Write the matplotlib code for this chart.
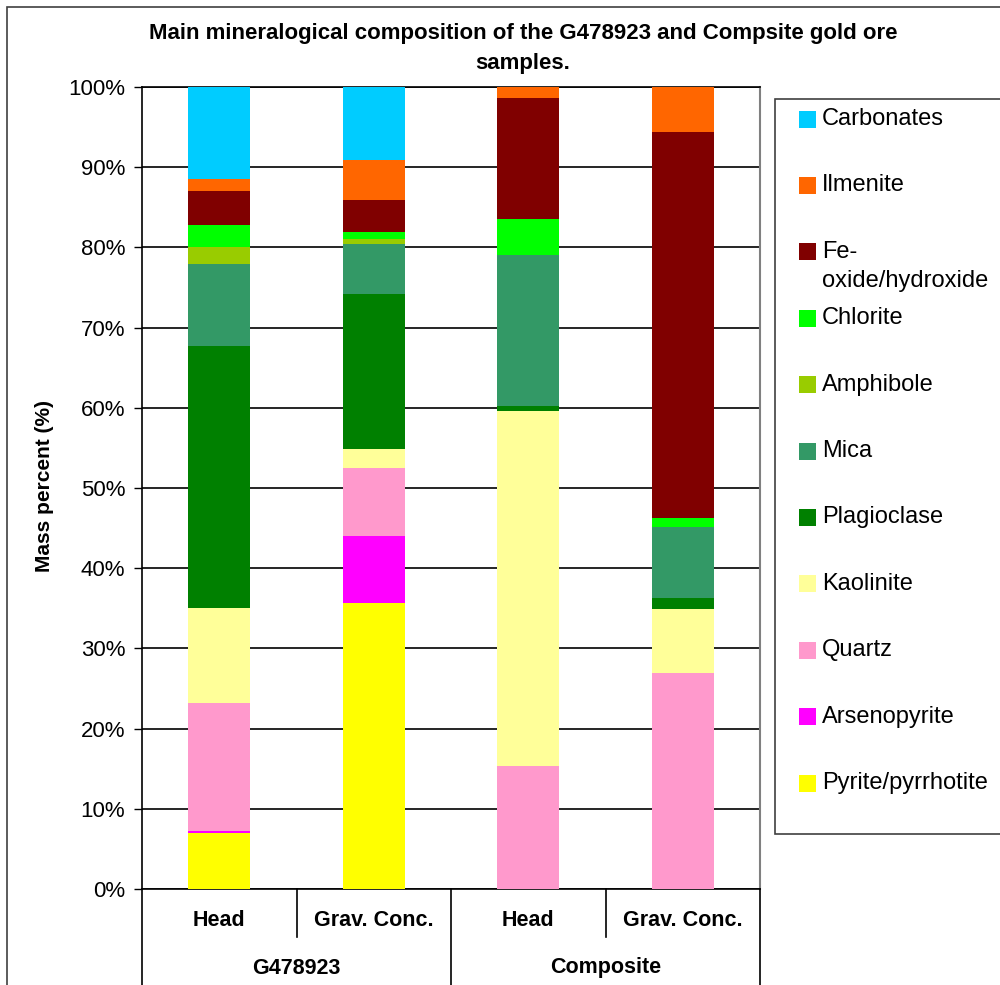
import matplotlib
matplotlib.use("Agg")
import matplotlib.pyplot as plt
from matplotlib.patches import Rectangle
from matplotlib.lines import Line2D
from matplotlib.ticker import FuncFormatter
import matplotlib.transforms as mtransforms

plt.rcParams['font.family'] = ['Liberation Sans', 'DejaVu Sans']

# Samples (bar order) and their groups
samples = ["Head", "Grav. Conc.", "Head", "Grav. Conc."]
groups = ["G478923", "Composite"]

# Mass percent of each mineral per sample (stacked bottom -> top)
pyrite = [7.0, 35.7, 0.0, 0.0]
arsenopyrite = [0.2, 8.3, 0.0, 0.0]
quartz = [16.0, 8.5, 15.3, 26.9]
kaolinite = [11.8, 2.4, 44.3, 8.0]
plagioclase = [32.7, 19.3, 0.6, 1.4]
mica = [10.2, 6.2, 18.9, 8.8]
amphibole = [2.2, 0.6, 0.0, 0.0]
chlorite = [2.7, 0.9, 4.4, 1.2]
fe_oxide = [4.2, 4.0, 15.1, 48.1]
ilmenite = [1.5, 5.0, 1.4, 5.6]
carbonates = [11.5, 9.1, 0.0, 0.0]

minerals = ["Pyrite/pyrrhotite", "Arsenopyrite", "Quartz", "Kaolinite",
            "Plagioclase", "Mica", "Amphibole", "Chlorite",
            "Fe-\noxide/hydroxide", "Ilmenite", "Carbonates"]
series = [pyrite, arsenopyrite, quartz, kaolinite, plagioclase, mica,
          amphibole, chlorite, fe_oxide, ilmenite, carbonates]
colors = ["#FFFF00", "#FF00FF", "#FF99CC", "#FFFF99", "#008000", "#339966",
          "#99CC00", "#00FF00", "#800000", "#FF6600", "#00CCFF"]

W, H = 1000, 985
fig = plt.figure(figsize=(W / 100, H / 100), dpi=100)


def fx(px):
    return px / W


def fy(py):
    return (H - py) / H


ax = fig.add_axes([fx(142), fy(889), fx(760) - fx(142), fy(87) - fy(889)])

x = list(range(len(samples)))
bottom = [0.0] * len(samples)
for vals, col in zip(series, colors):
    ax.bar(x, vals, width=0.4, bottom=bottom, color=col, edgecolor='none',
           zorder=3)
    bottom = [b + v for b, v in zip(bottom, vals)]

ax.set_xlim(-0.5, len(samples) - 0.5)
ax.set_ylim(0, 100)
ax.set_yticks(range(0, 101, 10))
ax.yaxis.set_major_formatter(FuncFormatter(lambda v, p: f"{v:.0f}%"))
ax.tick_params(axis='y', direction='out', length=6, width=1, labelsize=16,
               pad=6, colors='black')
ax.set_xticks([])
ax.grid(axis='y', color='black', linewidth=1.2, zorder=0)
ax.set_axisbelow(True)
for s in ['left', 'bottom', 'top']:
    ax.spines[s].set_color('black')
    ax.spines[s].set_linewidth(1.2)
ax.spines['right'].set_color('#808080')
ax.spines['right'].set_linewidth(1.5)

# Two-level category axis below the plot
trans = mtransforms.blended_transform_factory(ax.transData, fig.transFigure)
for xi, lab in zip(x, samples):
    ax.text(xi, fy(920), lab, transform=trans, ha='center', va='center',
            fontsize=15.5, fontweight='bold')
for gi, g in enumerate(groups):
    ax.text(gi * 2 + 0.5, fy(968), g, transform=trans, ha='center',
            va='center', fontsize=15.5, fontweight='bold')
for b in [-0.5, 1.5, 3.5]:
    fig.add_artist(Line2D([b, b], [fy(889), 0], transform=trans,
                          color='black', linewidth=1.2, clip_on=False))
for b in [0.5, 2.5]:
    fig.add_artist(Line2D([b, b], [fy(889), fy(937)], transform=trans,
                          color='black', linewidth=1.2, clip_on=False))

# Title and axis label
fig.text(fx(523), fy(33), "Main mineralogical composition of the G478923 and Compsite gold ore",
         ha='center', va='center', fontsize=16, fontweight='bold')
fig.text(fx(523), fy(63), "samples.", ha='center', va='center',
         fontsize=16, fontweight='bold')
fig.text(fx(45), fy(486), "Mass percent (%)", rotation=90, ha='center',
         va='center', fontsize=15, fontweight='bold')

# Legend box (top entry = last series)
fig.add_artist(Rectangle((fx(775), fy(834)), fx(1003) - fx(775),
                         fy(99) - fy(834), transform=fig.transFigure,
                         facecolor='white', edgecolor='#404040',
                         linewidth=1.2))
y0, step = 119, 66.4
for i, (lab, col) in enumerate(zip(minerals[::-1], colors[::-1])):
    yc = y0 + i * step
    fig.add_artist(Rectangle((fx(799), fy(yc + 8.5)), fx(17), 17 / H,
                             transform=fig.transFigure, facecolor=col,
                             edgecolor='none'))
    lines = lab.split("\n")
    for j, ln in enumerate(lines):
        fig.text(fx(822), fy(yc + j * 29), ln, ha='left', va='center',
                 fontsize=17)

# Outer chart frame
fig.add_artist(Rectangle((fx(7), -0.05), 1.2, fy(7) + 0.05,
                         transform=fig.transFigure, facecolor='none',
                         edgecolor='#404040', linewidth=1.2))

fig.savefig("out.png", dpi=100)
